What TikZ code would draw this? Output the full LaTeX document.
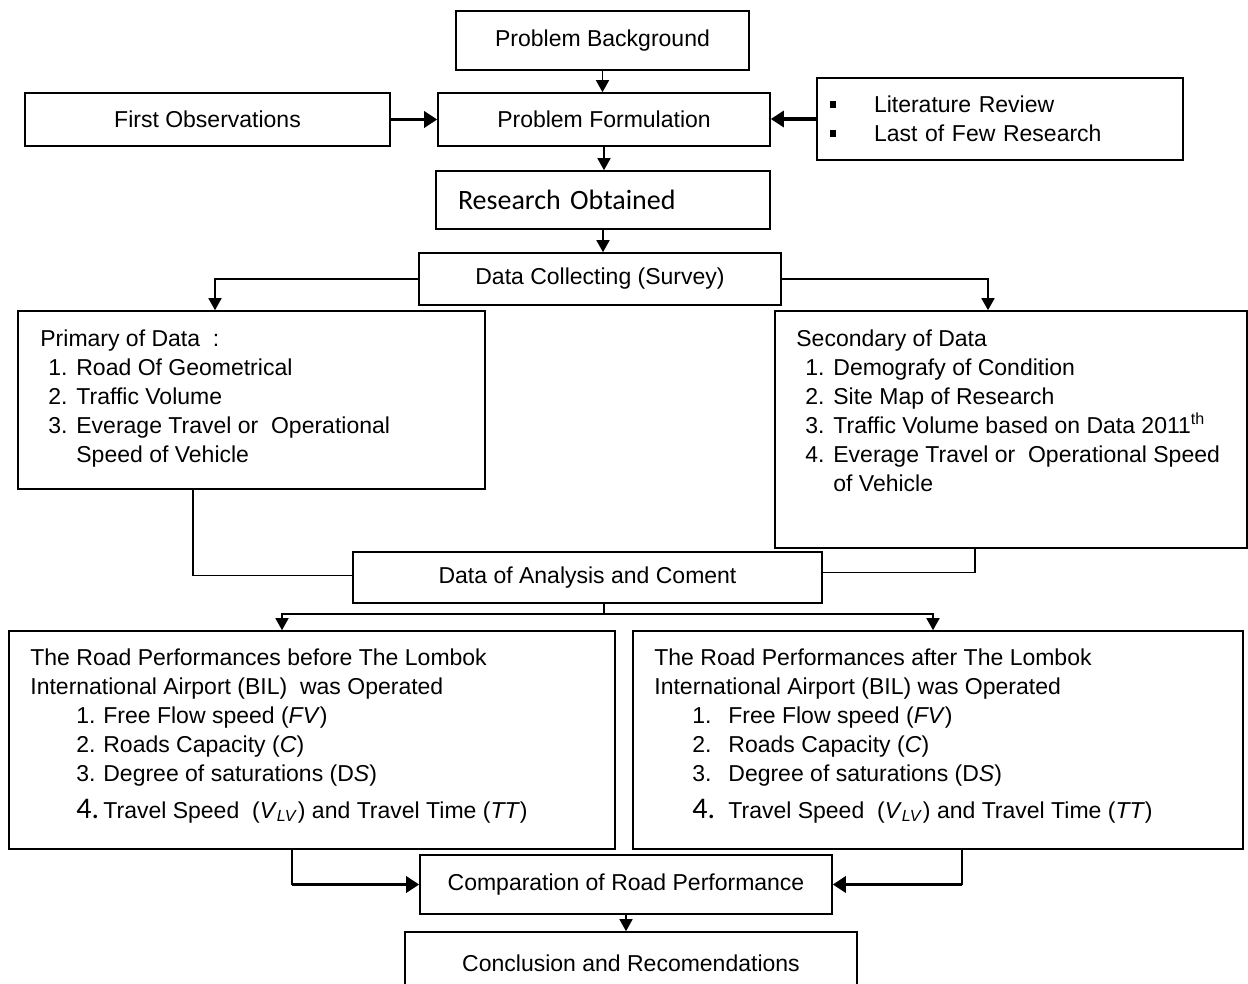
\documentclass[tikz,border=0pt]{standalone}
\usepackage{fontspec}
\setmainfont{Liberation Sans}
\newfontfamily\carlito{Carlito}
\usepackage{tikz}
\usetikzlibrary{arrows.meta}
\newcommand{\sqbul}{\makebox[22pt][l]{\rule[2.5pt]{3.2pt}{3.2pt}}}
\newcommand{\numit}[2][14pt]{\makebox[#1][l]{#2}}
\newcommand{\bigfour}{{\carlito\fontsize{15}{15}\selectfont 4.}}

\begin{document}
\begin{tikzpicture}[x=0.5pt,y=0.5pt,yscale=-1,xscale=1,
  box/.style={draw, line width=0.8pt, inner sep=0.75pt, font=\fontsize{11.5}{14.5}\selectfont},
  txt/.style={anchor=north west, inner sep=0pt, align=left, font=\fontsize{11.5}{14.5}\selectfont},
  arr/.style={line width=0.8pt, -{Triangle[length=6pt,width=6.5pt]}},
  thickarr/.style={line width=1.6pt, -{Triangle[length=6.5pt,width=8pt]}},
  line/.style={line width=0.8pt}]
\useasboundingbox (0,0) rectangle (1248,984);
\clip (0,0) rectangle (1248,984);
\node [box, minimum width=146.5pt, minimum height=29.5pt] (pb) at (602.5,40.5) {Problem Background};
\node [box, minimum width=182.5pt, minimum height=26.5pt] (fo) at (207.5,119.5) {First Observations};
\node [box, minimum width=166pt, minimum height=26.5pt] (pf) at (604,119.5) {Problem Formulation};
\node [box, text width=170pt, inner xsep=6.5pt, minimum height=41pt, align=left] (lit) at (1000,119) {\sqbul Literature Review\\\sqbul Last of Few Research};
\node [box, text width=145pt, inner xsep=11pt, minimum height=29pt, align=left, font=\carlito\fontsize{14}{17}\selectfont] (ro) at (603,200) {Research Obtained};
\node [box, minimum width=181pt, minimum height=26pt] (dc) at (600,279) {Data Collecting (Survey)};
\node [box, minimum width=233.5pt, minimum height=89pt] (prim) at (251.5,400) {};
\node [box, minimum width=236pt, minimum height=118.5pt] (sec) at (1011,429.5) {};
\node [box, minimum width=234.5pt, minimum height=25.5pt] (da) at (587.5,577.5) {Data of Analysis and Coment};
\node [box, minimum width=303pt, minimum height=109pt] (bef) at (312,740) {};
\node [box, minimum width=305pt, minimum height=109pt] (aft) at (938,740) {};
\node [box, minimum width=206pt, minimum height=29.5pt] (cmp) at (626,884.5) {Comparation of Road Performance};
\node [box, minimum width=226pt, minimum height=31pt] (concl) at (631,963) {Conclusion and Recomendations};

\node [txt] (primtxt) at (40,329) {Primary of Data~~:\\
\hspace*{4pt}\numit{1.}Road Of Geometrical\\
\hspace*{4pt}\numit{2.}Traffic Volume\\
\hspace*{4pt}\numit{3.}Everage Travel or~~Operational\\
\hspace*{18pt}Speed of Vehicle};
\node [txt] (sectxt) at (796,329) {Secondary of Data\\
\hspace*{4.5pt}\numit{1.}Demografy of Condition\\
\hspace*{4.5pt}\numit{2.}Site Map of Research\\
\hspace*{4.5pt}\numit{3.}Traffic Volume based on Data 2011\textsuperscript{th}\\
\hspace*{4.5pt}\numit{4.}Everage Travel or~~Operational Speed\\
\hspace*{18.5pt}of Vehicle};
\node [txt] (beftxt) at (30,648) {The Road Performances before The Lombok\\
International Airport (BIL)~~was Operated\\
\hspace*{23pt}\numit[13.5pt]{1.}Free Flow speed (\textit{FV})\\
\hspace*{23pt}\numit[13.5pt]{2.}Roads Capacity (\textit{C})\\
\hspace*{23pt}\numit[13.5pt]{3.}Degree of saturations (D\textit{S})\\[4pt]
\hspace*{23pt}\numit[13.5pt]{\bigfour}Travel Speed~~(\textit{V}\textsubscript{\textit{LV}}) and Travel Time (\textit{TT})};
\node [txt] (afttxt) at (654,648) {The Road Performances after The Lombok\\
International Airport (BIL) was Operated\\
\hspace*{19pt}\numit[18pt]{1.}Free Flow speed (\textit{FV})\\
\hspace*{19pt}\numit[18pt]{2.}Roads Capacity (\textit{C})\\
\hspace*{19pt}\numit[18pt]{3.}Degree of saturations (D\textit{S})\\[4pt]
\hspace*{19pt}\numit[18pt]{\bigfour}Travel Speed~~(\textit{V}\textsubscript{\textit{LV}}) and Travel Time (\textit{TT})};

\draw [arr] (pb.south) -- (pb.south |- pf.north);
\draw [thickarr] (fo) -- (pf);
\draw [thickarr] (lit.west) -- (lit.west -| pf.east);
\draw [arr] (pf.south) -- (pf.south |- ro.north);
\draw [arr] (ro.south) -- (ro.south |- dc.north);
\draw [arr] (dc.west) -| ([xshift=-18.25pt]prim.north);
\draw [arr] (dc.east) -| ([xshift=-11.5pt]sec.north);
\draw [line] ([xshift=-29.25pt]prim.south) |- ([yshift=-1pt]da.west);
\draw [line] ([xshift=-18pt]sec.south) |- ([yshift=-2.5pt]da.east);
\coordinate (split) at (604,614);
\draw [line] (da.south -| split) -- (split);
\draw [arr] (split) -| ([xshift=-15pt]bef.north);
\draw [arr] (split) -| ([xshift=-2.5pt]aft.north);
\coordinate (befout) at ([xshift=-10pt]bef.south);
\coordinate (aftout) at ([xshift=12pt]aft.south);
\draw [line] (befout) -- (befout |- cmp.west);
\draw [thickarr] (befout |- cmp.west) -- (cmp.west);
\draw [line] (aftout) -- (aftout |- cmp.east);
\draw [thickarr] (aftout |- cmp.east) -- (cmp.east);
\draw [arr] (cmp.south) -- (cmp.south |- concl.north);
\end{tikzpicture}
\end{document}
